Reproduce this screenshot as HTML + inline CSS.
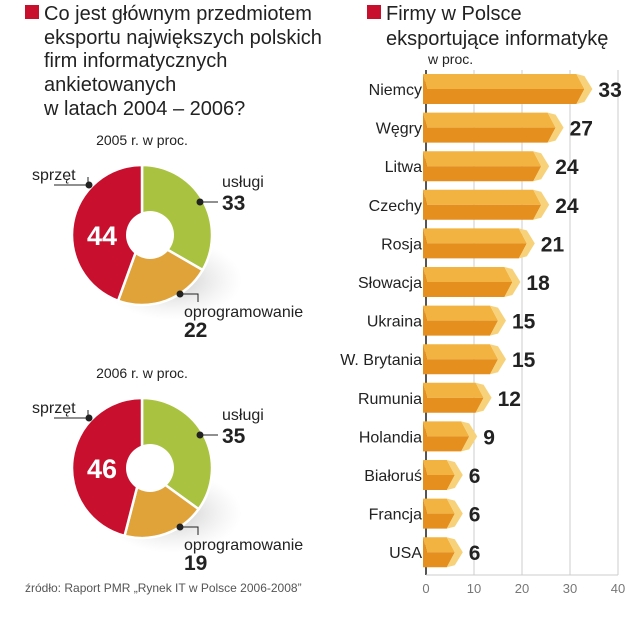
<!DOCTYPE html>
<html><head><meta charset="utf-8">
<style>
body{margin:0;background:#fff;width:626px;height:640px;overflow:hidden;font-family:"Liberation Sans",sans-serif;}
svg{display:block}
</style></head>
<body>
<svg id="chart" width="626" height="640" xmlns="http://www.w3.org/2000/svg">
<defs>
<radialGradient id="sh" cx="0.5" cy="0.5" r="0.5">
<stop offset="0" stop-color="#999" stop-opacity="0.55"/><stop offset="1" stop-color="#ccc" stop-opacity="0"/>
</radialGradient>
</defs>
<g font-size="20" fill="#222">
<rect x="25" y="5" width="14" height="14" fill="#c8102e"/>
<text x="44" y="20">Co jest głównym przedmiotem</text>
<text x="44" y="44">eksportu największych polskich</text>
<text x="44" y="67">firm informatycznych</text>
<text x="44" y="91">ankietowanych</text>
<text x="44" y="115">w latach 2004 – 2006?</text>
</g>
<g font-size="20" fill="#222">
<rect x="367" y="5" width="14" height="14" fill="#c8102e"/>
<text x="386" y="20">Firmy w Polsce</text>
<text x="386" y="45">eksportujące informatykę</text>
<text x="428" y="64" font-size="14">w proc.</text>
</g>
<g id="pies"></g>
<g id="bars"></g>
<text x="25" y="592" font-size="12" fill="#555">źródło: Raport PMR „Rynek IT w Polsce 2006-2008”</text>
</svg>
<script>
const pieYears = ["2005 r. w proc.", "2006 r. w proc."];
const pieCategories = ["usługi", "oprogramowanie", "sprzęt"];
const pieValues2005 = [33, 22, 44];
const pieValues2006 = [35, 19, 46];
const barCategories = ["Niemcy","Węgry","Litwa","Czechy","Rosja","Słowacja","Ukraina","W. Brytania","Rumunia","Holandia","Białoruś","Francja","USA"];
const barValues = [33,27,24,24,21,18,15,15,12,9,6,6,6];
const xTicks = [0,10,20,30,40];

const NS="http://www.w3.org/2000/svg";
function mk(tag,attrs,parent){const e=document.createElementNS(NS,tag);for(const k in attrs)e.setAttribute(k,attrs[k]);parent.appendChild(e);return e;}

const pies=document.getElementById('pies');
const pieColors=["#a9c23f","#e0a33a","#c8102e"];
const pieSets=[pieValues2005,pieValues2006];
const centersY=[235,468];
pieSets.forEach((vals,pi)=>{
  const cx=142,cy=centersY[pi],R=70,r=24,hx=cx+8;
  const g=mk('g',{},pies);
  
  
  const t=mk('text',{x:142,y:cy-90,'font-size':14,'text-anchor':'middle',fill:'#222'},g);t.textContent=pieYears[pi];
  
  
  mk('ellipse',{cx:cx+30,cy:cy+45,rx:70,ry:40,fill:'url(#sh)'},g);
  const total=vals.reduce((a,b)=>a+b,0);
  let a0=0;
  const ang=a=>a/total*2*Math.PI;
  vals.forEach((v,i)=>{
    const s=ang(a0),e=ang(a0+v);a0+=v;
    const p=(rad,a,c)=>[c+rad*Math.sin(a),cy-rad*Math.cos(a)];
    const [x1,y1]=p(R,s,cx),[x2,y2]=p(R,e,cx);
    const lg=(e-s)>Math.PI?1:0;
    const path=mk('path',{d:`M${cx},${cy}L${x1},${y1}A${R},${R} 0 ${lg} 1 ${x2},${y2}Z`,fill:pieColors[i],stroke:'#fff','stroke-width':2.5,'stroke-linejoin':'round'},g);
    
    
  });
  mk('circle',{cx:hx,cy:cy,r:r,fill:'#fff'},g);
  const lab=(x,y,txt,size,weight,fill,anchor)=>{const e=mk('text',{x,y,'font-size':size,'font-weight':weight,fill,'text-anchor':anchor||'start'},g);e.textContent=txt;return e;};
  const ul=lab(222,cy-48,pieCategories[0],16,'normal','#222');
  
  
  const uv=lab(222,cy-25,String(vals[0]),21,'bold','#222');
  
  
  mk('circle',{cx:200,cy:cy-33,r:3.5,fill:'#222'},g);mk('line',{x1:200,y1:cy-33,x2:218,y2:cy-33,stroke:'#222'},g);
  const ol=lab(184,cy+82,pieCategories[1],16,'normal','#222');
  
  
  const ov=lab(184,cy+102,String(vals[1]),21,'bold','#222');
  
  
  mk('circle',{cx:180,cy:cy+59,r:3.5,fill:'#222'},g);mk('polyline',{points:`180,${cy+59} 198,${cy+59} 198,${cy+67}`,fill:'none',stroke:'#222'},g);
  const sl=lab(32,cy-55,pieCategories[2],16,'normal','#222');
  
  
  mk('polyline',{points:`54,${cy-50} 88,${cy-50} 88,${cy-58}`,fill:'none',stroke:'#222'},g);
  mk('circle',{cx:89,cy:cy-58+8,r:3.5,fill:'#222'},g);
  const sv=lab(102,cy+10,String(vals[2]),27,'bold','#fff','middle');
  
  
});

const bars=document.getElementById('bars');
const x0=426,ppu=4.8,y0=70,yAxis=575,top0=89,step=38.6,bh=30;
const xs=v=>x0+v*ppu;
xTicks.forEach(t=>{
  const l=mk('line',{x1:xs(t),y1:y0,x2:xs(t),y2:yAxis,stroke:t===0?'#555':'#ccc','stroke-width':t===0?2:1},bars);
  
  
  const tx=mk('text',{x:xs(t),y:yAxis+18,'font-size':13,'text-anchor':'middle',fill:'#777'},bars);tx.textContent=t;
  
  
});
mk('line',{x1:x0,y1:yAxis,x2:xs(40),y2:yAxis,stroke:'#ccc'},bars);
barCategories.forEach((c,i)=>{
  const cy=top0+i*step, xe=xs(barValues[i]);
  const g=mk('g',{},bars);
  
  
  const L=x0-3,t=cy-bh/2,b=cy+bh/2,tip=8;
  mk('polygon',{points:`${L},${t} ${xe-tip},${t} ${xe},${cy} ${L+4},${cy}`,fill:'#f2b341'},g);
  mk('polygon',{points:`${L+4},${cy} ${xe},${cy} ${xe-tip},${b} ${L},${b} ${L},${t}`,fill:'#e58f1e'},g);
  mk('polygon',{points:`${xe-tip},${t} ${xe},${t+2} ${xe+tip},${cy} ${xe},${b-2} ${xe-tip},${b} ${xe},${cy}`,fill:'#f7d27a'},g);
  const lt=mk('text',{x:x0-4,y:cy+6,'font-size':16,'text-anchor':'end',fill:'#222'},g);lt.textContent=c;
  
  
  const vt=mk('text',{x:xe+tip+6,y:cy+8,'font-size':21,'font-weight':'bold',fill:'#222'},g);vt.textContent=barValues[i];
  
  
});
</script>
</body></html>
